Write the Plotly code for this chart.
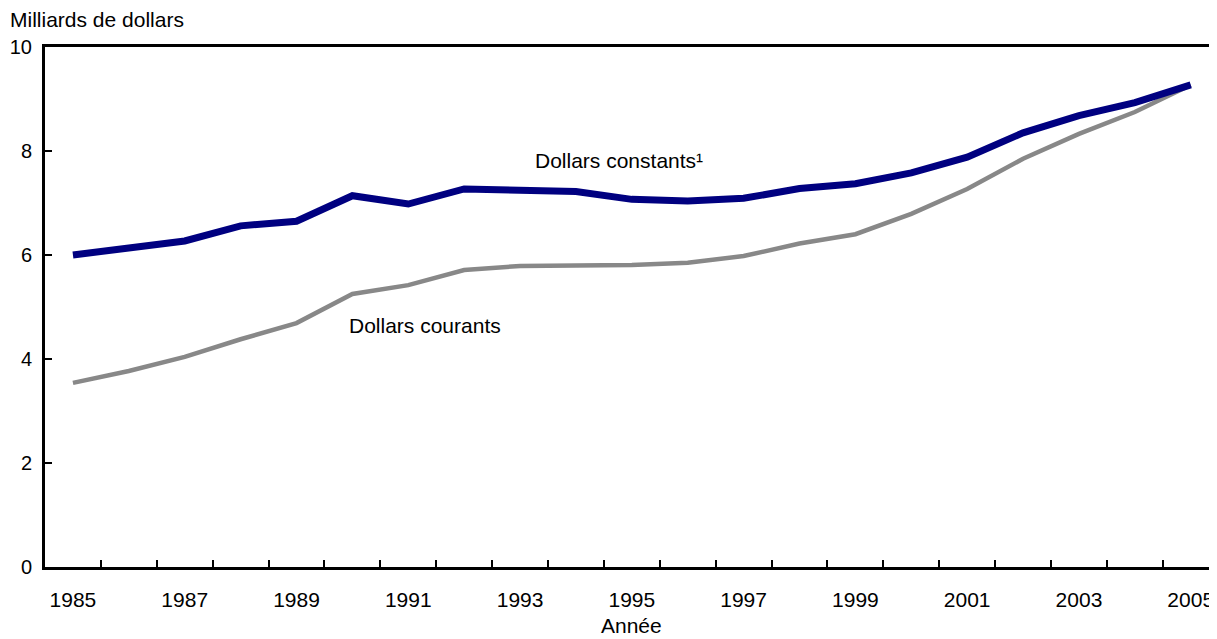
import plotly.graph_objects as go

years = list(range(1985, 2006))
constants = [6.00, 6.13, 6.27, 6.56, 6.65, 7.14, 6.98, 7.27, 7.24, 7.22, 7.07, 7.04, 7.09, 7.28, 7.37, 7.58, 7.88, 8.35, 8.68, 8.93, 9.27]
courants = [3.54, 3.77, 4.04, 4.38, 4.69, 5.25, 5.42, 5.71, 5.79, 5.79, 5.81, 5.85, 5.98, 6.22, 6.40, 6.79, 7.27, 7.85, 8.33, 8.75, 9.27]
tick_years = list(range(1985, 2006, 2))
y_ticks = [0, 2, 4, 6, 8, 10]

FONT = "Liberation Sans, Arial, sans-serif"
FS = 21

# page body has an 8px margin; compensate so the plot sits where the reference has it
W, H = 1209, 631
ML, MT, MB, MR = 37, 39, 72, 0
PW, PH = W - ML - MR, H - MT - MB

fig = go.Figure()
fig.add_trace(go.Scatter(x=years, y=courants, mode="lines",
                         line=dict(color="#888888", width=4.5), name="Dollars courants"))
fig.add_trace(go.Scatter(x=years, y=constants, mode="lines",
                         line=dict(color="#000080", width=7), name="Dollars constants"))

fig.update_layout(
    width=W, height=H,
    margin=dict(l=ML, r=MR, t=MT, b=MB, autoexpand=False),
    paper_bgcolor="white", plot_bgcolor="white",
    showlegend=False,
    font=dict(family=FONT, size=FS, color="black"),
    xaxis=dict(
        range=[1984.5, 2005.47],
        tickvals=tick_years, ticktext=[str(y) for y in tick_years],
        ticks="", showgrid=False, zeroline=False,
        showline=True, linecolor="black", linewidth=3, mirror=True,
        ticklabelstandoff=12,
        minor=dict(tickvals=[y + 0.5 for y in range(1985, 2005)],
                   ticks="inside", ticklen=7, tickwidth=2, tickcolor="black"),
    ),
    yaxis=dict(
        range=[0, 10], tickvals=y_ticks,
        ticks="inside", ticklen=7, tickwidth=2, tickcolor="black",
        showgrid=False, zeroline=False,
        showline=True, linecolor="black", linewidth=3, mirror=False,
        ticklabelstandoff=6, tickfont=dict(size=20),
    ),
    annotations=[
        dict(text="Milliards de dollars", x=-ML / PW, y=1 + 27 / PH, xref="paper", yref="paper",
             xanchor="left", yanchor="middle", showarrow=False, font=dict(size=FS)),
        dict(text="Dollars constants¹", x=1994.77, y=7.81, xref="x", yref="y",
             showarrow=False, xanchor="center", yanchor="middle", font=dict(size=FS)),
        dict(text="Dollars courants", x=1991.3, y=4.65, xref="x", yref="y",
             showarrow=False, xanchor="center", yanchor="middle", font=dict(size=FS)),
        dict(text="Année", x=0.5, y=0, xref="paper", yref="paper", yshift=-72,
             showarrow=False, xanchor="center", yanchor="bottom", font=dict(size=FS)),
    ],
)

fig.write_html("out.html")
